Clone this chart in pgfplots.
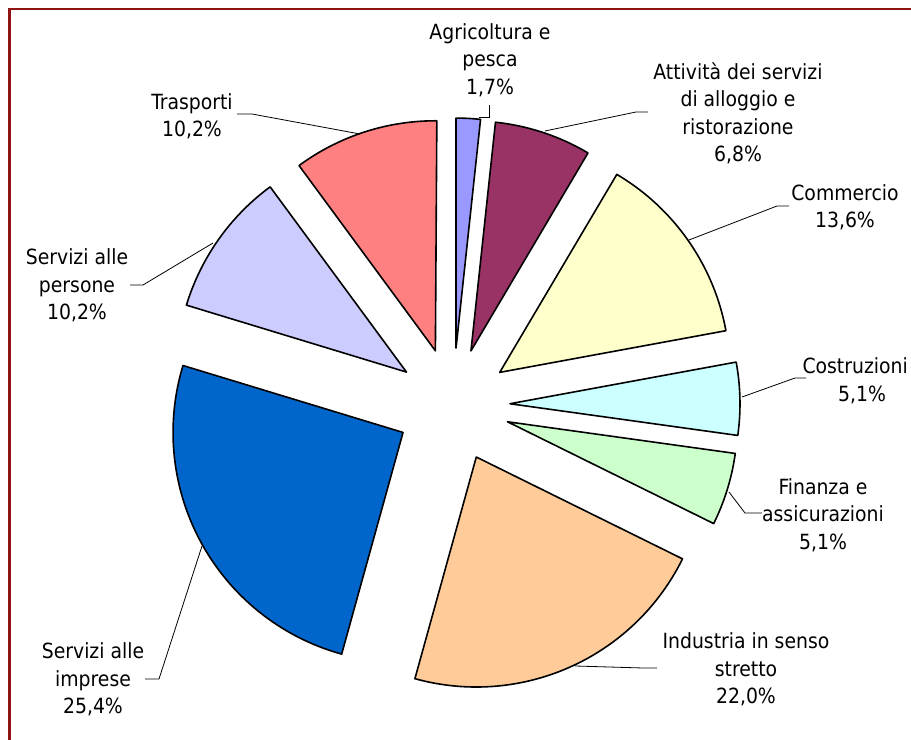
\documentclass[border=0pt]{standalone}
\usepackage{pgfplots}
\pgfplotsset{compat=1.18}
\usepackage{fontspec}
\setmainfont{DejaVu Sans Condensed}

\definecolor{cAgr}{HTML}{9999FF}
\definecolor{cAtt}{HTML}{993366}
\definecolor{cCom}{HTML}{FFFFCC}
\definecolor{cCos}{HTML}{CCFFFF}
\definecolor{cFin}{HTML}{CCFFCC}
\definecolor{cInd}{HTML}{FFCC99}
\definecolor{cImp}{HTML}{0066CC}
\definecolor{cPer}{HTML}{CCCCFF}
\definecolor{cTra}{HTML}{FF8080}
\definecolor{frame}{RGB}{145,20,20}

\tikzset{lbl/.style={font=\fontsize{21}{27.5}\selectfont, align=center, text=black, inner sep=0pt}}

% pie geometry (in px = bp)
\def\cx{453}\def\cy{335}\def\rad{230}\def\expl{57}
\def\cum{0}
\newcommand{\pieslice}[2]{% #1 share (%), #2 colour
  \pgfmathsetmacro\aone{90-3.6*\cum}%
  \pgfmathsetmacro\atwo{90-3.6*(\cum+#1)}%
  \pgfmathsetmacro\amid{(\aone+\atwo)/2}%
  \pgfmathsetmacro\px{\cx+\expl*cos(\amid)}%
  \pgfmathsetmacro\py{\cy+\expl*sin(\amid)}%
  \pgfmathsetmacro\newcum{\cum+#1}%
  \global\let\cum\newcum
  \edef\doslice{\noexpand\addplot[fill=#2, draw=black, line width=1.6bp, line join=round, mark=none,
     domain=\atwo:\aone, samples=90, variable=\noexpand\t]
     ({\px+\rad*cos(\noexpand\t)},{\py+\rad*sin(\noexpand\t)}) -- (axis cs:\px,\py) -- cycle;}%
  \doslice
}

\begin{document}
\begin{tikzpicture}
\begin{axis}[
  x=1bp, y=1bp, xmin=0, xmax=911, ymin=0, ymax=740,
  hide axis, clip=false,
]
% shares in per cent, clockwise from the top
\pieslice{1.7}{cAgr}
\pieslice{6.8}{cAtt}
\pieslice{13.6}{cCom}
\pieslice{5.1}{cCos}
\pieslice{5.1}{cFin}
\pieslice{22.0}{cInd}
\pieslice{25.4}{cImp}
\pieslice{10.2}{cPer}
\pieslice{10.2}{cTra}

% leader lines
\addplot[black, line width=0.8bp, mark=none] coordinates {(489,635) (489,623) (479,623)};
\addplot[black, line width=0.8bp, mark=none] coordinates {(545,609) (636,628) (648,628)};
\addplot[black, line width=0.8bp, mark=none] coordinates {(689,500) (777,534) (789,534)};
\addplot[black, line width=0.8bp, mark=none] coordinates {(742,343) (795,362) (806,362)};
\addplot[black, line width=0.8bp, mark=none] coordinates {(729,248) (745,227) (762,227)};
\addplot[black, line width=0.8bp, mark=none] coordinates {(575,74) (643,72) (657,72)};
\addplot[black, line width=0.8bp, mark=none] coordinates {(202,194) (159,61) (145,61)};
\addplot[black, line width=0.8bp, mark=none] coordinates {(213,497) (143,455) (130,455)};
\addplot[black, line width=0.8bp, mark=none] coordinates {(360,606) (252,626) (237,626)};

% labels
\node[lbl] at (axis cs:490,680) {Agricoltura e\\pesca\\1,7\%};
\node[lbl] at (axis cs:738,626.5) {Attività dei servizi\\di alloggio e\\ristorazione\\6,8\%};
\node[lbl] at (axis cs:845,532.5) {Commercio\\13,6\%};
\node[lbl, anchor=east] at (axis cs:908,374) {Costruzioni};
\node[lbl] at (axis cs:862,345.5) {5,1\%};
\node[lbl] at (axis cs:823,225) {Finanza e\\assicurazioni\\5,1\%};
\node[lbl] at (axis cs:746,70.5) {Industria in senso\\stretto\\22,0\%};
\node[lbl] at (axis cs:93,60.5) {Servizi alle\\imprese\\25,4\%};
\node[lbl] at (axis cs:77,454.5) {Servizi alle\\persone\\10,2\%};
\node[lbl] at (axis cs:192,624) {Trasporti\\10,2\%};
\end{axis}
\draw[frame, line width=2.6bp] (9.7bp,-5bp) -- (9.7bp,731bp) -- (920bp,731bp);
\pgfresetboundingbox
\path (0,0) rectangle (911bp,740bp);
\end{tikzpicture}
\end{document}
